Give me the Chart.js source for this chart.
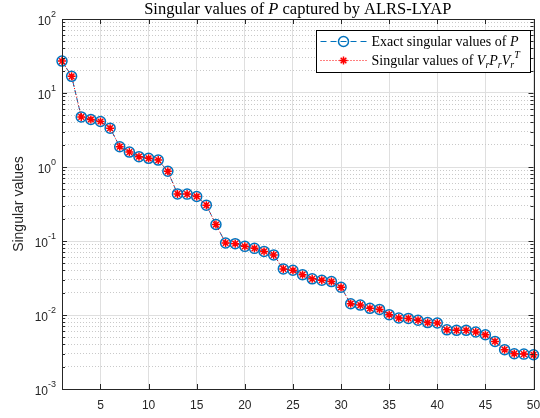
<!DOCTYPE html>
<html>
<head>
<meta charset="utf-8">
<title>Singular values</title>
<script src="https://cdn.jsdelivr.net/npm/chart.js@4.4.0/dist/chart.umd.min.js"></script>
<style>
    html, body { margin: 0; padding: 0; background: #ffffff; }
    #sv-chart { display: block; }
</style>
</head>
<body>
<canvas id="sv-chart" width="540" height="418"></canvas>
<script>
// =========================================================
// DATA
// =========================================================

const singularValueIndex = [
    1, 2, 3, 4, 5, 6, 7, 8, 9, 10,
    11, 12, 13, 14, 15, 16, 17, 18, 19, 20,
    21, 22, 23, 24, 25, 26, 27, 28, 29, 30,
    31, 32, 33, 34, 35, 36, 37, 38, 39, 40,
    41, 42, 43, 44, 45, 46, 47, 48, 49, 50
];

// exact singular values of P
const exactSingularValues = [
    27.0, 16.8, 4.75, 4.39, 4.12, 3.35, 1.88, 1.59, 1.38, 1.31,
    1.24, 0.875, 0.433, 0.43, 0.40, 0.305, 0.167, 0.094, 0.092, 0.0846,
    0.0795, 0.0724, 0.0649, 0.042, 0.0402, 0.0351, 0.0308, 0.0295, 0.0283, 0.0237,
    0.0142, 0.0136, 0.0123, 0.0119, 0.0101, 0.0091, 0.0090, 0.0085, 0.0079, 0.0078,
    0.0063, 0.0062, 0.0062, 0.0059, 0.0054, 0.0044, 0.0034, 0.0030, 0.00296, 0.0029
];

// singular values of Vr Pr Vr^T
const reducedSingularValues = [
    27.0, 16.8, 4.75, 4.39, 4.12, 3.35, 1.88, 1.59, 1.38, 1.31,
    1.24, 0.875, 0.433, 0.43, 0.40, 0.305, 0.167, 0.094, 0.092, 0.0846,
    0.0795, 0.0724, 0.0649, 0.042, 0.0402, 0.0351, 0.0308, 0.0295, 0.0283, 0.0237,
    0.0142, 0.0136, 0.0123, 0.0119, 0.0101, 0.0091, 0.0090, 0.0085, 0.0079, 0.0078,
    0.0063, 0.0062, 0.0062, 0.0059, 0.0054, 0.0044, 0.0034, 0.0030, 0.00296, 0.0029
];

const xTickValues = [5, 10, 15, 20, 25, 30, 35, 40, 45, 50];
const yDecadeExponents = [-3, -2, -1, 0, 1, 2];

// =========================================================
// STYLE
// =========================================================

const AXIS_COLOR = "#262626";
const MAJOR_GRID_COLOR = "#dfdfdf";
const MINOR_GRID_COLOR = "#c9c9c9";
const EXACT_COLOR = "#0072BD";
const REDUCED_COLOR = "#FF0000";
const SERIF_FONT = "'Liberation Serif', 'Times New Roman', serif";
const SANS_FONT = "'Liberation Sans', Arial, Helvetica, sans-serif";

// --- Helpers --- //

function toPoints(values) {
    return singularValueIndex.map(function (index, position) {
        return { x: index, y: values[position] };
    });
}

function buildLogTicks() {
    const ticks = [];

    for (let decade = 0; decade < yDecadeExponents.length; decade++) {
        const exponent = yDecadeExponents[decade];
        const isLastDecade = decade === yDecadeExponents.length - 1;

        for (let mantissa = 1; mantissa <= 9; mantissa++) {
            if (isLastDecade && mantissa > 1) {
                break;
            }
            ticks.push({ value: mantissa * Math.pow(10, exponent), major: mantissa === 1 });
        }
    }

    return ticks;
}

function crisp(value) {
    return Math.round(value) + 0.5;
}

// runs: [{ text, italic, script }] where script is "sub", "sup" or undefined
function drawTextRuns(ctx, x, y, runs, size, measureOnly) {
    let cursor = x;

    for (let runIndex = 0; runIndex < runs.length; runIndex++) {
        const run = runs[runIndex];
        const fontSize = run.script ? Math.round(size * 0.7) : size;
        let shift = 0;

        if (run.script === "sub") {
            shift = size * 0.28;
        } else if (run.script === "sup") {
            shift = -size * 0.38;
        }

        ctx.font = (run.italic ? "italic " : "") + fontSize + "px " + SERIF_FONT;

        if (!measureOnly) {
            ctx.fillText(run.text, cursor, y + shift);
        }

        cursor += ctx.measureText(run.text).width;
    }

    return cursor - x;
}

// =========================================================
// PLUGIN: axes box, inward ticks, decade labels, title, legend
// =========================================================

const matlabAxesPlugin = {
    id: "matlabAxes",

    afterDraw(chart) {
        const ctx = chart.ctx;
        const area = chart.chartArea;
        const xScale = chart.scales.x;
        const yScale = chart.scales.y;

        ctx.save();

        // box
        ctx.strokeStyle = AXIS_COLOR;
        ctx.lineWidth = 1;
        ctx.setLineDash([]);
        ctx.strokeRect(crisp(area.left), crisp(area.top), Math.round(area.right - area.left), Math.round(area.bottom - area.top));

        // inward ticks
        ctx.beginPath();
        for (let tickIndex = 0; tickIndex < xTickValues.length; tickIndex++) {
            const px = crisp(xScale.getPixelForValue(xTickValues[tickIndex]));
            ctx.moveTo(px, area.bottom);
            ctx.lineTo(px, area.bottom - 5);
            ctx.moveTo(px, area.top);
            ctx.lineTo(px, area.top + 5);
        }

        const logTicks = buildLogTicks();
        for (let tickIndex = 0; tickIndex < logTicks.length; tickIndex++) {
            const tick = logTicks[tickIndex];
            const py = crisp(yScale.getPixelForValue(tick.value));
            const length = tick.major ? 5 : 3;
            ctx.moveTo(area.left, py);
            ctx.lineTo(area.left + length, py);
            ctx.moveTo(area.right, py);
            ctx.lineTo(area.right - length, py);
        }
        ctx.stroke();

        // decade labels 10^k
        ctx.fillStyle = AXIS_COLOR;
        ctx.textBaseline = "middle";
        ctx.textAlign = "right";
        for (let labelIndex = 0; labelIndex < yDecadeExponents.length; labelIndex++) {
            const exponent = yDecadeExponents[labelIndex];
            const py = yScale.getPixelForValue(Math.pow(10, exponent));
            const exponentText = String(exponent);
            const labelRight = area.left - 6;

            ctx.font = "9px " + SANS_FONT;
            const exponentWidth = ctx.measureText(exponentText).width;
            ctx.fillText(exponentText, labelRight, py - 4);

            ctx.font = "12px " + SANS_FONT;
            ctx.fillText("10", labelRight - exponentWidth, py + 3);
        }

        // title
        ctx.textAlign = "left";
        ctx.textBaseline = "alphabetic";
        const titleRuns = [
            { text: "Singular values of " },
            { text: "P", italic: true },
            { text: " captured by ALRS-LYAP" }
        ];
        const titleSize = 16.5;
        const titleWidth = drawTextRuns(ctx, 0, 0, titleRuns, titleSize, true);
        const titleCenter = (area.left + area.right) / 2;
        ctx.fillStyle = "#000000";
        drawTextRuns(ctx, titleCenter - titleWidth / 2, 14, titleRuns, titleSize, false);

        drawLegend(ctx, area);

        ctx.restore();
    }
};

function drawLegend(ctx, area) {
    const legendRight = area.right - 4;
    const legendLeft = legendRight - 214;
    const legendTop = area.top + 11;
    const legendBottom = legendTop + 42;

    ctx.fillStyle = "#ffffff";
    ctx.fillRect(legendLeft, legendTop, legendRight - legendLeft, legendBottom - legendTop);
    ctx.strokeStyle = "#000000";
    ctx.lineWidth = 1;
    ctx.setLineDash([]);
    ctx.strokeRect(crisp(legendLeft), crisp(legendTop), Math.round(legendRight - legendLeft), Math.round(legendBottom - legendTop));

    const rows = [
        {
            y: legendTop + 11,
            color: EXACT_COLOR,
            dash: [6, 4],
            pointStyle: "circle",
            radius: 5,
            runs: [
                { text: "Exact singular values of " },
                { text: "P", italic: true }
            ]
        },
        {
            y: legendTop + 30,
            color: REDUCED_COLOR,
            dash: [1, 2],
            pointStyle: "star",
            radius: 4,
            runs: [
                { text: "Singular values of " },
                { text: "V", italic: true },
                { text: "r", italic: true, script: "sub" },
                { text: "P", italic: true },
                { text: "r", italic: true, script: "sub" },
                { text: "V", italic: true },
                { text: "r", italic: true, script: "sub" },
                { text: "T", italic: true, script: "sup" }
            ]
        }
    ];

    for (let rowIndex = 0; rowIndex < rows.length; rowIndex++) {
        const row = rows[rowIndex];
        const sampleStart = legendLeft + 5;
        const sampleEnd = legendLeft + 51;
        const sampleMid = (sampleStart + sampleEnd) / 2;

        ctx.strokeStyle = row.color;
        ctx.lineWidth = 1;
        ctx.setLineDash(row.dash);
        ctx.beginPath();
        ctx.moveTo(sampleStart, crisp(row.y));
        ctx.lineTo(sampleEnd, crisp(row.y));
        ctx.stroke();

        ctx.setLineDash([]);
        ctx.fillStyle = "rgba(0, 0, 0, 0)";
        ctx.lineWidth = 1.5;
        Chart.helpers.drawPoint(ctx, {
            pointStyle: row.pointStyle,
            radius: row.radius,
            borderWidth: 1.5,
            rotation: 0
        }, sampleMid, row.y + 0.5);

        ctx.fillStyle = "#000000";
        ctx.textBaseline = "middle";
        ctx.textAlign = "left";
        drawTextRuns(ctx, legendLeft + 56, row.y + 1, row.runs, 14, false);
    }
}

// =========================================================
// CHART
// =========================================================

function createSingularValueChart(canvas) {
    return new Chart(canvas, {
        type: "line",
        data: {
            datasets: [
                {
                    label: "Exact singular values of P",
                    data: toPoints(exactSingularValues),
                    borderColor: EXACT_COLOR,
                    borderWidth: 1,
                    borderDash: [5, 3],
                    pointStyle: "circle",
                    pointRadius: 5,
                    pointBorderWidth: 1.5,
                    pointBorderColor: EXACT_COLOR,
                    pointBackgroundColor: "rgba(0, 0, 0, 0)",
                    tension: 0,
                    clip: false,
                    order: 1
                },
                {
                    label: "Singular values of Vr Pr Vr^T",
                    data: toPoints(reducedSingularValues),
                    borderColor: REDUCED_COLOR,
                    borderWidth: 1,
                    borderDash: [1, 2],
                    pointStyle: "star",
                    pointRadius: 4,
                    pointBorderWidth: 1.5,
                    pointBorderColor: REDUCED_COLOR,
                    pointBackgroundColor: REDUCED_COLOR,
                    tension: 0,
                    clip: false,
                    order: 0
                }
            ]
        },
        options: {
            responsive: false,
            animation: false,
            events: [],
            devicePixelRatio: 1,
            layout: {
                padding: {
                    top: 19,
                    right: 6,
                    bottom: 0,
                    left: 0
                }
            },
            scales: {
                x: {
                    type: "linear",
                    min: 1,
                    max: 50,
                    afterBuildTicks: function (scale) {
                        scale.ticks = xTickValues.map(value => ({ value: value }));
                    },
                    afterFit: function (scale) {
                        scale.height = 29;
                        scale.paddingLeft = 0;
                        scale.paddingRight = 0;
                    },
                    grid: {
                        color: MAJOR_GRID_COLOR,
                        lineWidth: 1,
                        drawTicks: false
                    },
                    border: {
                        display: false
                    },
                    ticks: {
                        autoSkip: false,
                        maxRotation: 0,
                        padding: 9,
                        color: AXIS_COLOR,
                        font: {
                            family: SANS_FONT,
                            size: 12
                        }
                    }
                },
                y: {
                    type: "logarithmic",
                    min: 1e-3,
                    max: 1e2,
                    afterBuildTicks: function (scale) {
                        scale.ticks = buildLogTicks();
                    },
                    afterFit: function (scale) {
                        scale.width = 62;
                        scale.paddingTop = 0;
                        scale.paddingBottom = 0;
                    },
                    grid: {
                        color: function (context) {
                            return context.tick && context.tick.major ? MAJOR_GRID_COLOR : MINOR_GRID_COLOR;
                        },
                        lineWidth: 1,
                        drawTicks: false
                    },
                    border: {
                        display: false,
                        dash: function (context) {
                            return context.tick && !context.tick.major ? [1, 2] : [];
                        }
                    },
                    ticks: {
                        autoSkip: false,
                        callback: function () {
                            return "";
                        }
                    },
                    title: {
                        display: true,
                        text: "Singular values",
                        color: AXIS_COLOR,
                        font: {
                            family: SANS_FONT,
                            size: 14
                        },
                        padding: {
                            top: 11,
                            bottom: 0
                        }
                    }
                }
            },
            plugins: {
                legend: {
                    display: false
                },
                title: {
                    display: false
                },
                tooltip: {
                    enabled: false
                }
            }
        },
        plugins: [matlabAxesPlugin]
    });
}

createSingularValueChart(document.getElementById("sv-chart"));
</script>
</body>
</html>
